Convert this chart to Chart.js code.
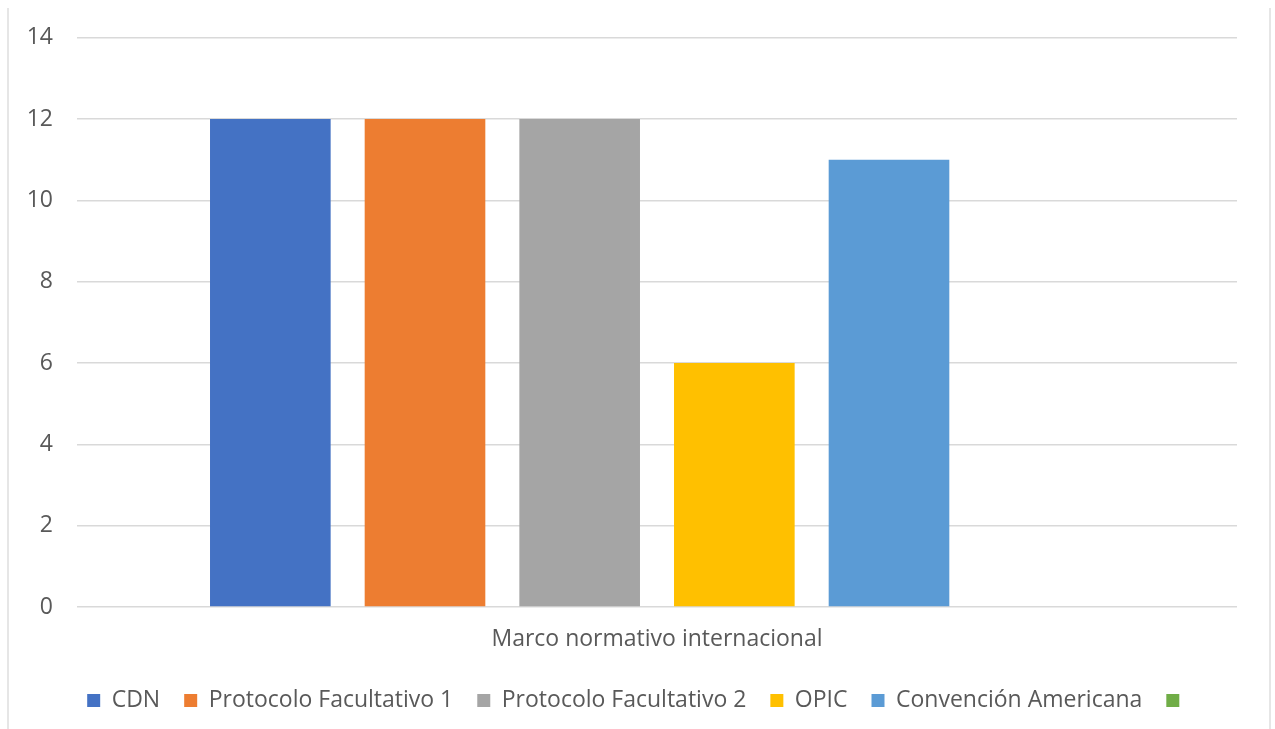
<!DOCTYPE html>
<html>
<head>
<meta charset="utf-8">
<script src="https://cdn.jsdelivr.net/npm/chart.js@4.4.1/dist/chart.umd.min.js"></script>
<style>
  html, body { margin: 0; padding: 0; background: #ffffff; }
  #marco {
    position: absolute; left: 0; top: 0; width: 1275px; height: 729px;
  }
  #borde {
    position: absolute; left: 7px; top: 8px; width: 1264px; height: 721px;
    border-left: 2px solid #e6e6e6; border-right: 2px solid #e6e6e6;
    box-sizing: border-box; pointer-events: none;
  }
</style>
</head>
<body>
<div id="marco"><canvas id="grafico" width="1275" height="729"></canvas></div>
<div id="borde"></div>
<script>
// Datos del gráfico
const categorias = ['Marco normativo internacional'];
const nombresSeries = ['CDN', 'Protocolo Facultativo 1', 'Protocolo Facultativo 2', 'OPIC', 'Convención Americana', ''];
const valoresSeries = [[12], [12], [12], [6], [11], [null]];
const coloresSeries = ['#4472C4', '#ED7D31', '#A5A5A5', '#FFC000', '#5B9BD5', '#70AD47'];
const ticksY = [0, 2, 4, 6, 8, 10, 12, 14];

const fuente = "'Open Sans', 'Noto Sans', sans-serif";
const gris = '#595959';

const conjuntos = nombresSeries.map((nombre, i) => ({
    label: nombre,
    data: valoresSeries[i],
    backgroundColor: coloresSeries[i],
    borderWidth: 0,
    categoryPercentage: 0.8,
    barPercentage: 0.78
}));

new Chart(document.getElementById('grafico').getContext('2d'), {
    type: 'bar',
    data: { labels: categorias, datasets: conjuntos },
    options: {
        responsive: false,
        animation: false,
        layout: { padding: { left: 3, right: 0, top: 36, bottom: 7 } },
        plugins: {
            tooltip: { enabled: false },
            legend: {
                position: 'bottom',
                labels: {
                    boxWidth: 13, boxHeight: 13, padding: 24,
                    color: gris,
                    font: { family: fuente, size: 23 }
                }
            }
        },
        scales: {
            x: {
                grid: { display: false },
                border: { display: false },
                ticks: { color: gris, font: { family: fuente, size: 23 }, padding: 11 },
                afterFit: (escala) => { escala.height = 58; }
            },
            y: {
                min: 0, max: 14,
                afterBuildTicks: (escala) => { escala.ticks = ticksY.map(v => ({ value: v })); },
                afterFit: (escala) => { escala.width = 74; },
                grid: { color: '#d9d9d9', lineWidth: 1.5, drawTicks: false },
                border: { display: false },
                ticks: { color: gris, font: { family: fuente, size: 23 }, padding: 24 }
            },
            // eje vacío a la derecha, solo para reservar el margen
            margen: {
                position: 'right',
                grid: { display: false },
                border: { display: false },
                ticks: { display: false },
                afterFit: (escala) => { escala.width = 38; }
            }
        }
    }
});
</script>
</body>
</html>
